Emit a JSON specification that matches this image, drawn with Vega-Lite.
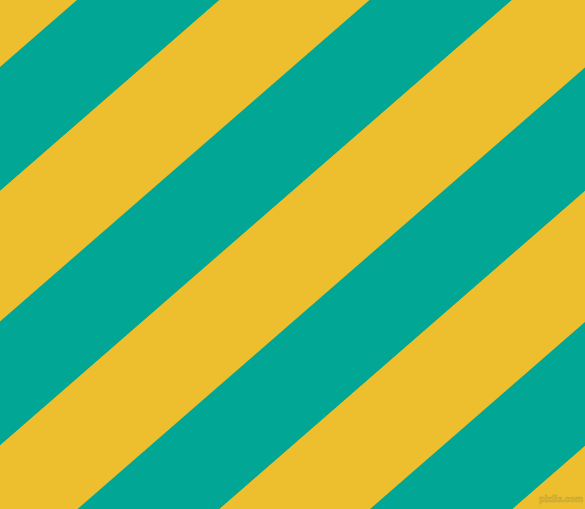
{
  "$schema": "https://vega.github.io/schema/vega-lite/v6.json",
  "width": 585,
  "height": 509,
  "autosize": {"type": "fit", "contains": "padding"},
  "padding": 0,
  "background": "#EDBE2D",
  "config": {"view": {"stroke": null}},
  "layer": [
    {
      "data": {
        "values": [
          {"stripe": 0, "band": "yellow", "x": 0, "top": -200, "bottom": 67},
          {"stripe": 0, "band": "yellow", "x": 585, "top": -709, "bottom": -442},
          {"stripe": 1, "band": "teal", "x": 0, "top": 67, "bottom": 191},
          {"stripe": 1, "band": "teal", "x": 585, "top": -442, "bottom": -318},
          {"stripe": 2, "band": "yellow", "x": 0, "top": 191, "bottom": 321.5},
          {"stripe": 2, "band": "yellow", "x": 585, "top": -318, "bottom": -187.5},
          {"stripe": 3, "band": "teal", "x": 0, "top": 321.5, "bottom": 445.5},
          {"stripe": 3, "band": "teal", "x": 585, "top": -187.5, "bottom": -63.5},
          {"stripe": 4, "band": "yellow", "x": 0, "top": 445.5, "bottom": 576.5},
          {"stripe": 4, "band": "yellow", "x": 585, "top": -63.5, "bottom": 67.5},
          {"stripe": 5, "band": "teal", "x": 0, "top": 576.5, "bottom": 700},
          {"stripe": 5, "band": "teal", "x": 585, "top": 67.5, "bottom": 191},
          {"stripe": 6, "band": "yellow", "x": 0, "top": 700, "bottom": 831},
          {"stripe": 6, "band": "yellow", "x": 585, "top": 191, "bottom": 322},
          {"stripe": 7, "band": "teal", "x": 0, "top": 831, "bottom": 955},
          {"stripe": 7, "band": "teal", "x": 585, "top": 322, "bottom": 446},
          {"stripe": 8, "band": "yellow", "x": 0, "top": 955, "bottom": 1200},
          {"stripe": 8, "band": "yellow", "x": 585, "top": 446, "bottom": 691}
        ]
      },
      "mark": {"type": "area", "clip": true, "interpolate": "linear"},
      "encoding": {
        "x": {"field": "x", "type": "quantitative", "scale": {"domain": [0, 585], "nice": false, "zero": false}, "axis": null},
        "y": {"field": "top", "type": "quantitative", "stack": null, "scale": {"domain": [0, 509], "nice": false, "zero": false, "reverse": true}, "axis": null},
        "y2": {"field": "bottom"},
        "detail": {"field": "stripe", "type": "nominal"},
        "color": {"field": "band", "type": "nominal", "scale": {"domain": ["teal", "yellow"], "range": ["#01A695", "#EDBE2D"]}, "legend": null}
      }
    },
    {
      "data": {"values": [{"label": "pixlis.com", "x": 583, "y": 499}]},
      "mark": {"type": "text", "font": "Liberation Sans", "fontSize": 9, "fontWeight": "bold", "color": "#EDBE2D", "stroke": "#B9A23A", "strokeWidth": 0.5, "align": "right", "baseline": "middle"},
      "encoding": {
        "x": {"field": "x", "type": "quantitative"},
        "y": {"field": "y", "type": "quantitative"},
        "text": {"field": "label"}
      }
    }
  ]
}
